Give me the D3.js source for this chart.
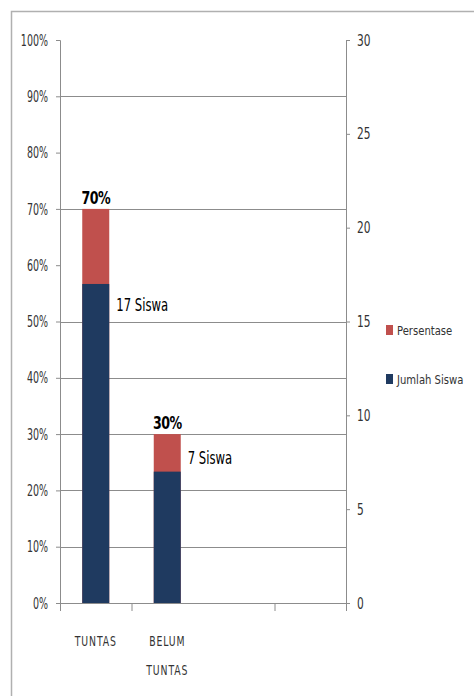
<!DOCTYPE html>
<html><head><meta charset="utf-8">
<script src="https://cdn.jsdelivr.net/npm/d3@7"></script>
<style>
html,body{margin:0;padding:0;background:#fff;}
svg{display:block;}
text{font-family:"Liberation Sans Narrow","DejaVu Sans Condensed","Liberation Sans",sans-serif;}
</style></head>
<body>
<svg id="c" width="474" height="696"></svg>
<script>
// ---- data ----
const categories = ["TUNTAS", "BELUM TUNTAS", "", ""];
const persentase = [70, 30];          // % (left axis)
const jumlahSiswa = [17, 7];          // students (right axis)
const leftTicks = [0,10,20,30,40,50,60,70,80,90,100];
const rightTicks = [0,5,10,15,20,25,30];
const gridTicks = [10,20,30,40,50,70,90];
const seriesNames = ["Persentase", "Jumlah Siswa"];
const colors = ["#c0504d", "#1f3a60"];

const svg = d3.select("#c");
// horizontal condensing helper: keeps anchor point, squeezes glyphs
function condense(sel, sx){
  sel.each(function(){
    const t = d3.select(this);
    const xx = +t.attr("x") || 0, yy = +t.attr("y") || 0;
    t.attr("x",0).attr("y",0).attr("transform",`translate(${xx},${yy}) scale(${sx},1)`);
  });
}

// frame
svg.append("path").attr("d","M11.5,696 V11.5 H474").attr("fill","none").attr("stroke","#b0b0b0").attr("stroke-width",1.5);

const L = 60, R = 346, T = 40, B = 603;
const x = d3.scaleBand().domain(d3.range(categories.length)).range([L, R]).paddingInner(0).paddingOuter(0);
const yL = d3.scaleLinear().domain([0,100]).range([B, T]);
const yR = d3.scaleLinear().domain([0,30]).range([B, T]);

// gridlines
svg.append("g").selectAll("line").data(gridTicks).join("line")
  .attr("x1", L).attr("x2", R).attr("y1", d=>Math.round(yL(d))+0.5).attr("y2", d=>Math.round(yL(d))+0.5)
  .attr("stroke","#8c8c8c").attr("stroke-width",1.2);

// left axis
const gl = svg.append("g").attr("transform",`translate(${L},0)`)
  .call(d3.axisLeft(yL).tickValues(leftTicks).tickFormat(d=>d+"%").tickSize(4).tickPadding(8));
gl.select(".domain").attr("stroke","#8c8c8c");
gl.selectAll(".tick line").attr("stroke","#8c8c8c");
gl.selectAll("text").attr("font-size",16).attr("fill","#333").attr("x",-12);
condense(gl.selectAll("text"), 0.66);

// right axis
const gr = svg.append("g").attr("transform",`translate(${R},0)`)
  .call(d3.axisRight(yR).tickValues(rightTicks).tickSize(4).tickPadding(7));
gr.select(".domain").attr("stroke","#8c8c8c");
gr.selectAll(".tick line").attr("stroke","#8c8c8c");
gr.selectAll("text").attr("font-size",16).attr("fill","#333").attr("x",11);
condense(gr.selectAll("text"), 0.74);

// x axis
svg.append("line").attr("x1",L-4).attr("x2",R+4).attr("y1",B+0.5).attr("y2",B+0.5).attr("stroke","#8c8c8c").attr("stroke-width",1.2);
const bounds = [0,1,3,4];
svg.append("g").selectAll("line").data(bounds).join("line")
  .attr("x1", d=>L + d*x.bandwidth()+0.5).attr("x2", d=>L + d*x.bandwidth()+0.5)
  .attr("y1", B).attr("y2", B+8).attr("stroke","#8c8c8c");

// category labels
categories.forEach((c,i)=>{
  if(!c) return;
  const cx = x(i)+x.bandwidth()/2;
  c.split(" ").forEach((w,k)=>{
    const t = svg.append("text").attr("x", cx).attr("y", 646 + k*29)
      .attr("text-anchor","middle").attr("font-size",14).attr("fill","#333").attr("letter-spacing",1.2).text(w);
    condense(t, 0.74);
  });
});

const bw = 27;
// red bars (percent)
svg.append("g").selectAll("rect").data(persentase).join("rect")
  .attr("x",(d,i)=>x(i)+x.bandwidth()/2-bw/2).attr("width",bw)
  .attr("y",d=>yL(d)).attr("height",d=>B-yL(d)).attr("fill",colors[0]);
// navy bars (students)
svg.append("g").selectAll("rect").data(jumlahSiswa).join("rect")
  .attr("x",(d,i)=>x(i)+x.bandwidth()/2-bw/2).attr("width",bw)
  .attr("y",d=>yR(d)).attr("height",d=>B-yR(d)).attr("fill",colors[1]);

// percent labels
const pl = svg.append("g").selectAll("text").data(persentase).join("text")
  .attr("x",(d,i)=>x(i)+x.bandwidth()/2).attr("y",d=>yL(d)-5)
  .attr("text-anchor","middle").attr("font-size",18).attr("font-weight","bold").attr("fill","#000")
  .attr("letter-spacing",-0.8).text(d=>d+"%");
condense(pl, 0.78);
// student labels
const sdy = [27, -8];
const sl = svg.append("g").selectAll("text").data(jumlahSiswa).join("text")
  .attr("x",(d,i)=>x(i)+x.bandwidth()/2+bw/2+7).attr("y",(d,i)=>yR(d)+sdy[i])
  .attr("font-size",18).attr("fill","#000").text(d=>d+" Siswa");
condense(sl, 0.72);

// legend
const lg = svg.append("g");
seriesNames.forEach((n,i)=>{
  const yy = 330 + i*49;
  lg.append("rect").attr("x",386).attr("y",yy-5).attr("width",7).attr("height",10).attr("fill",colors[i]);
  const t = lg.append("text").attr("x",397).attr("y",yy+5).attr("font-size",13).attr("fill","#333").text(n);
  condense(t, 0.86);
});
</script>
</body></html>
